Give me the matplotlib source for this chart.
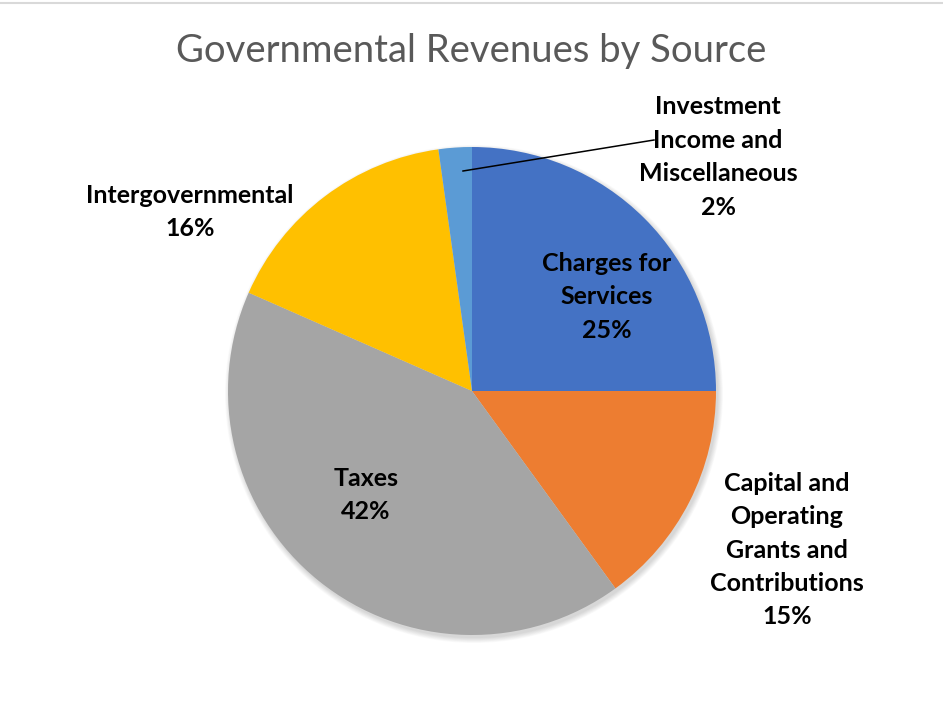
import matplotlib.pyplot as plt
from matplotlib.lines import Line2D
from matplotlib.patches import Circle

categories = ["Charges for\nServices",
              "Capital and\nOperating\nGrants and\nContributions",
              "Taxes",
              "Intergovernmental",
              "Investment\nIncome and\nMiscellaneous"]
values = [25.0, 15.0, 41.6, 16.2, 2.2]
colors = ["#4472C4", "#ED7D31", "#A5A5A5", "#FFC000", "#5B9BD5"]

# label centres in pixel space (x right, y up), figure is 943 x 704
label_pos = [(607, 704 - 297), (787, 704 - 550), (366, 704 - 495),
             (190, 704 - 212), (718, 704 - 157)]

plt.rcParams['font.family'] = ['Lato', 'DejaVu Sans']

fig = plt.figure(figsize=(9.43, 7.04), dpi=100)
ax = fig.add_axes([0, 0, 1, 1])

cx, cy, r = 472, 704 - 391, 244

# soft shadow under the pie
for i in range(8):
    ax.add_patch(Circle((cx + 2, cy - 3), r + 5 - i * 0.7, color='black',
                        alpha=0.018, lw=0, zorder=0))

ax.pie(values, colors=colors, startangle=90, counterclock=False,
       center=(cx, cy), radius=r, frame=True,
       wedgeprops=dict(linewidth=0))
ax.set_xlim(0, 943)
ax.set_ylim(0, 704)
ax.set_aspect('equal')
ax.axis('off')

total = sum(values)
for name, v, (x, y) in zip(categories, values, label_pos):
    pct = round(v / total * 100)
    ax.text(x, y, f"{name}\n{pct}%", ha='center', va='center',
            fontsize=18, fontweight='bold', color='black',
            linespacing=1.55, zorder=5)

# leader line for the small slice
ax.plot([463, 654], [704 - 171, 704 - 140], color='black', lw=1.1, zorder=4)

fig.text(0.5, 1 - 51 / 704, "Governmental Revenues by Source", ha='center',
         va='center', fontsize=27.5, fontweight='normal', color='#595959')

fig.add_artist(Line2D([0, 1], [1 - 3 / 704, 1 - 3 / 704], color='#D9D9D9',
                      lw=1.5, transform=fig.transFigure))

fig.savefig("out.png", dpi=100)
